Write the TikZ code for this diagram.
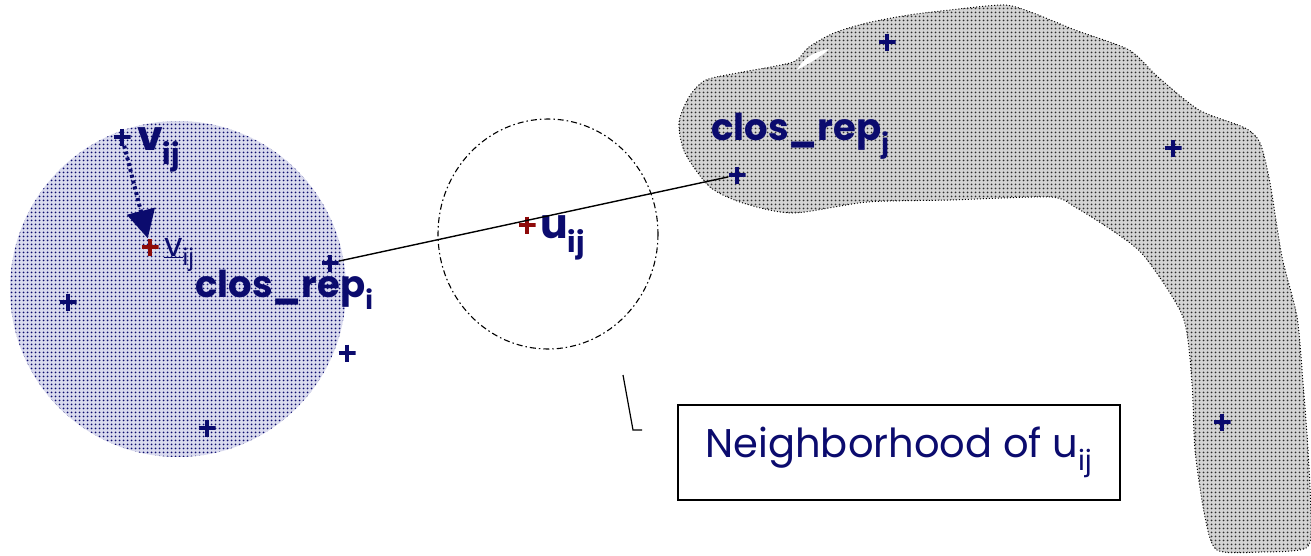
\documentclass[tikz,border=0pt]{standalone}
\usepackage{fontspec}
\setmainfont{Poppins}
\usetikzlibrary{arrows.meta,patterns.meta}
\definecolor{ink}{HTML}{0B0B6E}
\definecolor{redmark}{HTML}{8E0A0A}
\definecolor{clusfill}{HTML}{D9DAEE}
\definecolor{blobfill}{HTML}{D4D4D4}
\definecolor{blobdot}{HTML}{2E2E2E}
\newcommand{\labfont}{\fontsize{37}{40}\selectfont\bfseries}
\newcommand{\bigfont}{\fontsize{41}{44}\selectfont\bfseries}
\newcommand{\smallfont}{\fontsize{33}{36}\selectfont\mdseries}
\newcommand{\boxfont}{\fontsize{40}{44}\selectfont}
\tikzset{
 plusmark/.style={inner sep=0pt,minimum size=17pt,
   path picture={\draw[#1,line width=3.6pt]
     (path picture bounding box.west) -- (path picture bounding box.east)
     (path picture bounding box.north) -- (path picture bounding box.south);}},
 plusmark/.default=ink,
 lab/.style={font=\labfont,text=ink,inner sep=0pt,anchor=base west},
 cluster/.style={pattern={Dots[distance=4pt,radius=1.2pt]},pattern color=ink},
 blob/.style={draw=black,dotted,line width=1pt,fill=blobfill},
 blobdots/.style={pattern={Dots[distance=4pt,radius=1.2pt]},pattern color=blobdot},
 hood/.style={draw=black,line width=1.1pt,dash pattern=on 6pt off 3pt on 1.5pt off 3pt},
 link/.style={draw=black,line width=1.4pt},
 move/.style={draw=ink,line width=4pt,dash pattern=on 3pt off 3pt,
   -{Triangle[length=28pt,width=28pt]}},
 callout/.style={draw=black,line width=1.2pt},
}
\newcommand{\blobpath}{plot[smooth cycle,tension=0.45] coordinates {
  (679,123) (689,97) (706,80) (743,72) (793,62) (809,47) (834,33) (867,23)
  (909,15) (950,10) (1004,5) (1033,13) (1075,30) (1129,50) (1158,77)
  (1199,110) (1245,128) (1260,143) (1270,183) (1282,257)
  (1297,317) (1303,383) (1308,450) (1311,520) (1306,548) (1260,552)
  (1217,550) (1205,517) (1195,450) (1192,383) (1183,317) (1145,257)
  (1116,233) (1075,207) (1050,197) (950,200) (867,202) (793,213)
  (743,203) (710,187) (685,153)}}

\begin{document}
\begin{tikzpicture}[x=1pt,y=-1pt]
\useasboundingbox (0,0) rectangle (1311,555);

% cluster i
\fill[clusfill] (178,289) circle (168);
\fill[cluster] (178,289) circle (168);

% cluster j
\path[blob] \blobpath;
\fill[blobdots] \blobpath;
\fill[white] (797,70) .. controls (802,60) and (812,52) .. (829,49)
  .. controls (822,56) and (810,63) .. (797,70);

% neighborhood
\draw[hood] (548,234) ellipse (110 and 115);

% points
\node[plusmark] (v) at (122,137) {};
\node[plusmark=redmark] (vbar) at (150,247) {};
\node[plusmark] (repi) at (330,263) {};
\node[plusmark] (pa) at (68,302) {};
\node[plusmark] (pb) at (347,353) {};
\node[plusmark] (pc) at (207,428) {};
\node[plusmark=redmark] (u) at (527,225) {};
\node[plusmark] (repj) at (737,175) {};
\node[plusmark] (pd) at (887,42) {};
\node[plusmark] (pe) at (1173,148) {};
\node[plusmark] (pf) at (1222,422) {};

% labels
\node[lab,font=\bigfont] (vlab) at (137,150) {v\textsubscript{ij}};
\node[lab,font=\smallfont] (vbarlab) at (164,256) {\underline{v}\textsubscript{ij}};
\node[lab] (repilab) at (195,297) {clos\_rep\textsubscript{i}};
\node[lab,font=\bigfont] (ulab) at (540,238) {u\textsubscript{ij}};
\node[lab] (repjlab) at (711,140) {clos\_rep\textsubscript{j}};

\node[draw=black,line width=1.2pt,minimum width=442pt,minimum height=95pt,
  font=\boxfont,text=ink] (note) at (899,452.5) {Neighborhood of u\textsubscript{ij}};

% connectors
\draw[link] (repi) -- (repj);
\draw[move] (v) -- (vbar);
\coordinate (tipa) at (623,375);
\coordinate (tipb) at (633,430);
\coordinate (tipc) at (642,430);
\draw[callout] (tipa) -- (tipb) -- (tipc);

\end{tikzpicture}
\end{document}
